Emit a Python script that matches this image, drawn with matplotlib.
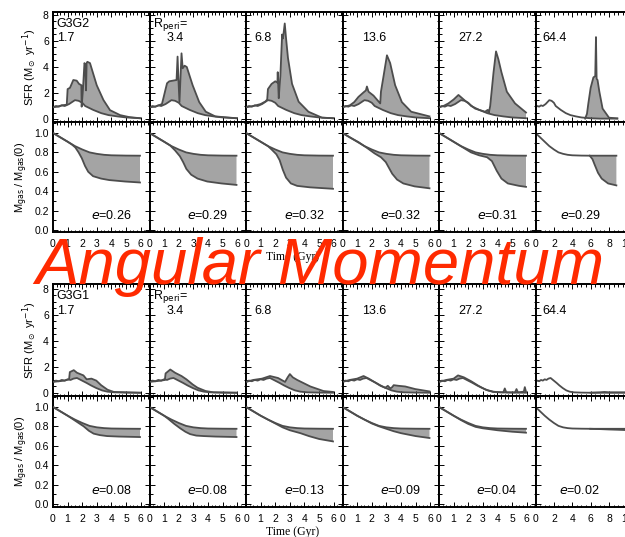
import numpy as np
import matplotlib.pyplot as plt
from matplotlib.ticker import MultipleLocator

plt.rcParams['font.family'] = ['Liberation Sans', 'DejaVu Sans']
plt.rcParams['mathtext.fontset'] = 'dejavusans'

# ---- data ----
# upper block (G3G2): isolated-galaxy curves
sfr_iso_t = [0, 0.2, 0.4, 0.6, 0.8, 1.1, 1.3, 1.5, 1.75, 2.0, 2.2, 2.75, 3.3, 3.8, 4.4, 5.0, 5.95, 7.0, 8.9]
sfr_iso_v = [0.9, 1.0, 0.95, 1.05, 1.0, 1.15, 1.3, 1.45, 1.4, 1.25, 1.0, 0.7, 0.45, 0.3, 0.2, 0.12, 0.06, 0.03, 0.03]
gas_iso_t = [0, 0.5, 1.0, 1.5, 2.0, 2.5, 3.0, 3.5, 4.0, 5.0, 5.95, 7.0, 8.8]
gas_iso_v = [1.0, 0.955, 0.91, 0.865, 0.83, 0.80, 0.785, 0.775, 0.77, 0.767, 0.766, 0.766, 0.766]

# upper block: merger SFR
sfr_t1 = [0, 0.3, 0.6, 0.94, 1.0, 1.16, 1.39, 1.62, 1.78, 1.94, 1.96, 2.05, 2.15, 2.2, 2.26, 2.3, 2.35, 2.53, 2.99, 3.45, 3.9, 4.59, 5.2, 5.95]
sfr_v1 = [0.9, 0.95, 1.05, 1.1, 2.3, 2.4, 3.0, 2.95, 2.7, 2.6, 0.95, 2.3, 4.3, 4.2, 2.2, 4.3, 4.4, 4.3, 2.6, 1.46, 0.68, 0.3, 0.15, 0.06]
sfr_t2 = [0, 0.4, 0.85, 0.95, 1.1, 1.2, 1.35, 1.6, 1.85, 1.92, 1.98, 2.05, 2.12, 2.19, 2.27, 2.4, 2.55, 2.95, 3.4, 3.85, 4.5, 5.95]
sfr_v2 = [0.9, 0.95, 1.15, 1.6, 2.3, 2.75, 2.9, 2.95, 3.0, 4.8, 3.0, 1.3, 3.2, 5.05, 3.9, 4.1, 4.0, 2.6, 1.3, 0.56, 0.2, 0.06]
sfr_t3 = [0, 0.5, 1.0, 1.33, 1.45, 1.5, 1.75, 2.0, 2.15, 2.17, 2.24, 2.3, 2.35, 2.47, 2.53, 2.65, 2.74, 2.87, 3.15, 3.6, 4.27, 5.2, 5.95]
sfr_v3 = [0.9, 1.0, 1.15, 1.35, 1.5, 2.3, 2.7, 2.9, 2.8, 3.6, 1.6, 2.6, 3.3, 6.5, 6.2, 7.35, 6.2, 4.7, 2.7, 1.33, 0.56, 0.1, 0.06]
sfr_t4 = [0, 0.5, 0.8, 1.09, 1.44, 1.6, 1.67, 1.78, 2.12, 2.35, 2.58, 2.63, 2.8, 3.04, 3.26, 3.6, 4.06, 4.7, 5.95]
sfr_v4 = [0.9, 1.05, 1.3, 1.7, 2.05, 2.2, 2.5, 2.1, 1.8, 1.5, 1.2, 2.1, 3.25, 4.9, 4.3, 2.6, 1.3, 0.56, 0.2]
sfr_t5 = [0, 0.3, 0.64, 1.0, 1.33, 1.79, 2.47, 3.15, 3.33, 3.4, 3.5, 3.73, 3.9, 4.06, 4.27, 4.64, 5.2, 5.95]
sfr_v5 = [0.9, 1.0, 1.2, 1.5, 1.85, 1.4, 0.8, 0.56, 0.7, 0.45, 1.0, 3.6, 5.2, 4.6, 3.6, 2.1, 1.2, 0.5]
sfr_t6 = [5.4, 5.6, 5.75, 6.0, 6.3, 6.5, 6.58, 6.65, 6.75, 6.95, 7.3, 8.0, 8.9]
sfr_v6 = [0.03, 0.4, 1.2, 2.4, 3.2, 3.3, 6.3, 3.1, 3.0, 2.1, 0.8, 0.1, 0.05]

# upper block: merger gas fraction
gas_t1 = [0, 0.5, 1.0, 1.3, 1.53, 1.75, 1.97, 2.19, 2.41, 2.74, 3.29, 3.84, 4.93, 5.95]
gas_v1 = [1.0, 0.955, 0.91, 0.88, 0.85, 0.80, 0.74, 0.66, 0.60, 0.555, 0.53, 0.515, 0.50, 0.49]
gas_t2 = [0, 0.5, 1.0, 1.42, 1.75, 2.08, 2.3, 2.52, 2.85, 3.29, 3.95, 4.93, 5.95]
gas_v2 = [1.0, 0.955, 0.91, 0.87, 0.82, 0.76, 0.70, 0.63, 0.57, 0.53, 0.50, 0.48, 0.465]
gas_t3 = [0, 0.5, 1.0, 1.5, 1.75, 2.08, 2.3, 2.52, 2.74, 3.07, 3.5, 4.38, 5.95]
gas_v3 = [1.0, 0.955, 0.91, 0.865, 0.83, 0.78, 0.72, 0.62, 0.54, 0.48, 0.455, 0.44, 0.425]
gas_t4 = [0, 0.5, 1.1, 1.64, 2.19, 2.63, 2.96, 3.18, 3.4, 3.73, 4.16, 4.93, 5.95]
gas_v4 = [1.0, 0.955, 0.905, 0.85, 0.79, 0.75, 0.70, 0.64, 0.58, 0.52, 0.48, 0.45, 0.43]
gas_t5 = [0, 0.5, 1.1, 2.19, 2.74, 3.29, 3.62, 3.95, 4.27, 4.71, 5.48, 5.95]
gas_v5 = [1.0, 0.955, 0.9, 0.8, 0.77, 0.75, 0.71, 0.61, 0.53, 0.48, 0.455, 0.445]
gas_t6 = [5.9, 6.2, 6.45, 6.8, 7.2, 7.9, 8.8]
gas_v6 = [0.766, 0.73, 0.67, 0.59, 0.53, 0.48, 0.46]

# lower block (G3G1): isolated-galaxy curves
bsfr_iso_t = [0, 0.2, 0.4, 0.6, 0.8, 1.0, 1.2, 1.4, 1.64, 1.9, 2.3, 2.6, 2.96, 3.35, 3.73, 4.2, 5.0, 5.95, 7.5, 9.8]
bsfr_iso_v = [0.85, 0.95, 0.9, 1.0, 0.95, 1.05, 1.0, 1.1, 1.15, 1.0, 0.77, 0.58, 0.38, 0.2, 0.1, 0.05, 0.03, 0.02, 0.02, 0.02]
bgas_iso_t = [0, 0.5, 1.0, 1.5, 2.0, 2.5, 3.0, 3.5, 4.0, 5.0, 5.95, 7.5, 9.8]
bgas_iso_v = [1.0, 0.955, 0.91, 0.87, 0.835, 0.805, 0.79, 0.782, 0.778, 0.776, 0.775, 0.775, 0.775]

# lower block: merger SFR
bsfr_t1 = [0, 0.4, 0.8, 1.1, 1.15, 1.42, 1.64, 1.86, 2.08, 2.3, 2.63, 2.96, 3.29, 3.73, 4.16, 5.95]
bsfr_v1 = [0.85, 0.9, 0.95, 1.05, 1.6, 1.75, 1.55, 1.45, 1.35, 1.05, 1.1, 0.95, 0.6, 0.25, 0.08, 0.02]
bsfr_t2 = [0, 0.4, 0.8, 1.05, 1.1, 1.42, 1.75, 2.19, 2.52, 2.96, 3.29, 3.84, 4.38, 5.95]
bsfr_v2 = [0.85, 0.9, 0.95, 1.0, 1.5, 1.8, 1.55, 1.3, 1.05, 0.65, 0.4, 0.15, 0.05, 0.02]
bsfr_t3 = [0, 0.5, 1.1, 1.64, 2.19, 2.67, 2.85, 3.0, 3.2, 3.5, 4.4, 5.3, 5.95]
bsfr_v3 = [0.85, 1.0, 1.1, 1.3, 1.15, 0.85, 1.2, 1.45, 1.2, 1.0, 0.5, 0.15, 0.08]
bsfr_t4 = [0, 0.5, 1.0, 1.44, 1.8, 2.24, 2.6, 2.92, 3.1, 3.27, 3.4, 3.5, 3.84, 4.29, 4.98, 5.95]
bsfr_v4 = [0.85, 1.0, 1.1, 1.3, 1.1, 0.8, 0.55, 0.4, 0.55, 0.35, 0.45, 0.6, 0.55, 0.5, 0.3, 0.12]
bsfr_t5 = [0, 0.5, 1.0, 1.3, 1.7, 2.2, 2.7, 3.2, 3.7, 4.4, 4.5, 4.6, 5.2, 5.3, 5.4, 5.8, 5.87, 5.95]
bsfr_v5 = [0.85, 1.0, 1.1, 1.35, 1.2, 0.9, 0.55, 0.25, 0.08, 0.05, 0.35, 0.05, 0.05, 0.3, 0.05, 0.1, 0.45, 0.1]
bsfr_t6 = [6.0, 7.0, 7.5, 8.0, 9.8]
bsfr_v6 = [0.02, 0.05, 0.08, 0.05, 0.05]

# lower block: merger gas fraction
bgas_t1 = [0, 0.5, 1.0, 1.3, 1.7, 2.1, 2.45, 2.78, 3.2, 3.7, 4.5, 5.95]
bgas_v1 = [1.0, 0.955, 0.91, 0.88, 0.84, 0.80, 0.755, 0.725, 0.71, 0.70, 0.695, 0.69]
bgas_t2 = [0, 0.5, 1.0, 1.3, 1.7, 2.1, 2.45, 2.78, 3.2, 3.7, 4.5, 5.95]
bgas_v2 = [1.0, 0.955, 0.91, 0.875, 0.825, 0.78, 0.745, 0.72, 0.705, 0.70, 0.695, 0.69]
bgas_t3 = [0, 0.5, 1.0, 1.44, 2.0, 2.5, 3.0, 3.72, 4.3, 5.0, 5.95]
bgas_v3 = [1.0, 0.955, 0.91, 0.875, 0.83, 0.79, 0.76, 0.73, 0.70, 0.67, 0.645]
bgas_t4 = [0, 0.5, 1.0, 1.5, 2.0, 2.5, 3.0, 3.5, 4.0, 5.0, 5.95]
bgas_v4 = [1.0, 0.955, 0.91, 0.87, 0.83, 0.80, 0.775, 0.75, 0.73, 0.70, 0.68]
bgas_t5 = [0, 0.5, 1.0, 1.5, 2.0, 2.5, 3.0, 4.0, 5.0, 5.95]
bgas_v5 = [1.0, 0.955, 0.91, 0.865, 0.825, 0.795, 0.78, 0.76, 0.745, 0.735]
bgas_t6 = [5.95, 7.0, 8.0, 9.0, 9.8]
bgas_v6 = [0.775, 0.772, 0.768, 0.765, 0.762]

rperi = ['1.7', '3.4', '6.8', '13.6', '27.2', '64.4']
ecc_top = ['0.26', '0.29', '0.32', '0.32', '0.31', '0.29']
ecc_bot = ['0.08', '0.08', '0.13', '0.09', '0.04', '0.02']

top_sfr = [(sfr_t1, sfr_v1), (sfr_t2, sfr_v2), (sfr_t3, sfr_v3), (sfr_t4, sfr_v4), (sfr_t5, sfr_v5), (sfr_t6, sfr_v6)]
top_gas = [(gas_t1, gas_v1), (gas_t2, gas_v2), (gas_t3, gas_v3), (gas_t4, gas_v4), (gas_t5, gas_v5), (gas_t6, gas_v6)]
bot_sfr = [(bsfr_t1, bsfr_v1), (bsfr_t2, bsfr_v2), (bsfr_t3, bsfr_v3), (bsfr_t4, bsfr_v4), (bsfr_t5, bsfr_v5), (bsfr_t6, bsfr_v6)]
bot_gas = [(bgas_t1, bgas_v1), (bgas_t2, bgas_v2), (bgas_t3, bgas_v3), (bgas_t4, bgas_v4), (bgas_t5, bgas_v5), (bgas_t6, bgas_v6)]

# ---- layout (pixels of the 625x537 canvas) ----
W, H = 625, 537
col_left = [53, 149.5, 246, 342.5, 439, 535.5]
col_w = 96.5
line_c = '#4d4d4d'
fill_c = '#a4a4a4'

fig = plt.figure(figsize=(W / 100, H / 100), dpi=100)


def add_ax(x0, ytop, ybot):
    return fig.add_axes([x0 / W, 1 - ybot / H, col_w / W, (ybot - ytop) / H])


def style(ax, last, show_x, show_y):
    ax.tick_params(which='both', direction='in', top=True, right=True, width=0.7, labelsize=7.5)
    ax.tick_params(which='major', length=3.5)
    ax.tick_params(which='minor', length=1.8)
    ax.tick_params(axis='x', pad=5)
    ax.tick_params(axis='y', pad=3)
    for s in ax.spines.values():
        s.set_linewidth(1.4)
    if last:
        ax.set_xlim(0, 10.5)
        ax.xaxis.set_major_locator(MultipleLocator(2))
        ax.xaxis.set_minor_locator(MultipleLocator(0.5))
    else:
        ax.set_xlim(0, 6.6)
        ax.xaxis.set_major_locator(MultipleLocator(1))
        ax.xaxis.set_minor_locator(MultipleLocator(0.25))
    if not show_x:
        ax.tick_params(labelbottom=False)
    if not show_y:
        ax.tick_params(labelleft=False)


def draw(ax, iso_t, iso_v, m_t, m_v):
    iso_t = np.array(iso_t)
    iso_v = np.array(iso_v)
    keep = iso_t <= m_t[-1] + 1e-9
    band = (iso_t >= m_t[0] - 1e-9) & keep
    px = list(m_t) + list(iso_t[band][::-1])
    py = list(m_v) + list(iso_v[band][::-1])
    ax.fill(px, py, color=fill_c, lw=0, zorder=1)
    ax.plot(iso_t[keep], iso_v[keep], color=line_c, lw=1.3, zorder=2)
    ax.plot(m_t, m_v, color=line_c, lw=1.3, zorder=3)


blocks = [
    dict(sfr=top_sfr, gas=top_gas, siso=(sfr_iso_t, sfr_iso_v), giso=(gas_iso_t, gas_iso_v),
         rows=(12, 122, 232), sfr_top=8.23, gas_bot=-0.02, tag='G3G2', ecc=ecc_top),
    dict(sfr=bot_sfr, gas=bot_gas, siso=(bsfr_iso_t, bsfr_iso_v), giso=(bgas_iso_t, bgas_iso_v),
         rows=(284, 396, 507), sfr_top=8.35, gas_bot=-0.031, tag='G3G1', ecc=ecc_bot),
]

for b in blocks:
    y0, y1, y2 = b['rows']
    for i in range(6):
        last = i == 5
        ax1 = add_ax(col_left[i], y0, y1)
        draw(ax1, *b['siso'], *b['sfr'][i])
        style(ax1, last, False, i == 0)
        ax1.set_ylim(-0.23, b['sfr_top'])
        ax1.yaxis.set_minor_locator(MultipleLocator(0.5))
        ax1.set_yticks([0, 2, 4, 6, 8])

        ax2 = add_ax(col_left[i], y1, y2)
        draw(ax2, *b['giso'], *b['gas'][i])
        style(ax2, last, True, i == 0)
        ax2.set_ylim(b['gas_bot'], 1.113)
        ax2.yaxis.set_major_locator(MultipleLocator(0.2))
        ax2.yaxis.set_minor_locator(MultipleLocator(0.1))
        ax2.yaxis.set_major_formatter(plt.FormatStrFormatter('%.1f'))

        # panel labels
        if i == 0:
            ax1.text(0.04, 0.89, b['tag'], transform=ax1.transAxes, fontsize=9, va='center')
            ax1.text(0.04, 0.76, rperi[i], transform=ax1.transAxes, fontsize=9, va='center')
        elif i == 1:
            ax1.text(0.04, 0.89, r'R$_{\rm peri}$=', transform=ax1.transAxes, fontsize=9, va='center')
            ax1.text(0.18, 0.76, rperi[i], transform=ax1.transAxes, fontsize=9, va='center')
        else:
            xs = {2: 0.09, 3: 0.2, 4: 0.2, 5: 0.07}[i]
            ax1.text(xs, 0.76, rperi[i], transform=ax1.transAxes, fontsize=9, va='center')
        ex = 0.46 if last else 0.6
        ax2.text(ex, 0.15, r'$e$=' + b['ecc'][i], transform=ax2.transAxes, fontsize=9,
                 ha='center', va='center')

    fig.text(30 / W, 1 - (y0 + y1) / 2 / H, r'SFR (M$_\odot$ yr$^{-1}$)', rotation=90,
             ha='center', va='center', fontsize=8)
    fig.text(22 / W, 1 - (y1 + y2) / 2 / H, r'M$_{\rm gas}$ / M$_{\rm gas}$(0)', rotation=90,
             ha='center', va='center', fontsize=8)
    fig.text(293 / W, 1 - (y2 + 25) / H, 'Time (Gyr)', ha='center', va='center',
             fontsize=8.5, family='Liberation Serif')

fig.text(320 / W, 1 - 284 / H, 'Angular Momentum', ha='center', va='baseline', fontsize=47,
         style='italic', color='#ff2a00', family='Liberation Sans', zorder=10)

fig.savefig('out.png', dpi=100)
